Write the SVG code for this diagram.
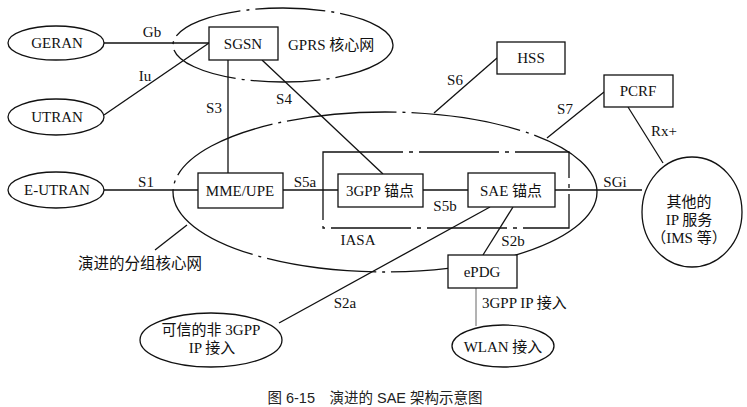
<svg xmlns="http://www.w3.org/2000/svg" width="747" height="407" viewBox="0 0 747 407">
<style>
.ln{stroke:#111;stroke-width:1.3;fill:none}
.el{stroke:#111;stroke-width:1.3;fill:#fff}
.bx{stroke:#111;stroke-width:1.3;fill:#fff}
.dd{stroke:#111;stroke-width:1.3;fill:none;stroke-dasharray:70 6 3 6}
.t{font-family:"Liberation Serif","Noto Sans CJK SC",serif;font-size:15px;fill:#111;text-anchor:middle}
.l{font-family:"Liberation Serif","Noto Sans CJK SC",serif;font-size:15px;fill:#111}
.cap{font-family:"Liberation Sans","Noto Sans CJK SC",sans-serif;font-size:14.5px;fill:#222;text-anchor:middle}
</style>
<rect width="747" height="407" fill="#fff"/>
<g id="regions">
<ellipse id="gprs-core" cx="283" cy="45" rx="110" ry="37" class="dd"/>
<ellipse id="evolved-core" cx="385" cy="192" rx="212" ry="80" class="dd" style="stroke-dasharray:110 6 3 6"/>
<rect id="iasa" x="323" y="152" width="246" height="76" class="dd" style="stroke-dasharray:80 6 4 6"/>
<text class="t" x="358" y="245">IASA</text>
<text class="l" x="288" y="50">GPRS 核心网</text>
<text class="t" x="140" y="269" style="font-family:'Noto Sans CJK SC',sans-serif;font-size:15.5px">演进的分组核心网</text>
</g>
<g id="connectors">
<line class="ln" x1="104" y1="43" x2="209" y2="43"/>
<line class="ln" x1="104" y1="115" x2="209" y2="43"/>
<line class="ln" x1="228" y1="60" x2="228" y2="173"/>
<line class="ln" x1="262" y1="60" x2="383" y2="174"/>
<line class="ln" x1="104" y1="190" x2="198" y2="190"/>
<line class="ln" x1="283" y1="190" x2="338" y2="190"/>
<line class="ln" x1="423" y1="190" x2="468" y2="190"/>
<line class="ln" x1="555" y1="190" x2="642" y2="190"/>
<line class="ln" x1="497" y1="58" x2="434" y2="113"/>
<line class="ln" x1="604" y1="92" x2="547" y2="138"/>
<line class="ln" x1="628" y1="107" x2="663" y2="163"/>
<line class="ln" x1="513" y1="207" x2="483" y2="255"/>
<line class="ln" x1="490" y1="207" x2="279" y2="323"/>
<line class="ln" x1="476" y1="288" x2="476" y2="326" style="stroke:#666;stroke-width:1"/>
<line class="ln" x1="155" y1="250" x2="187" y2="225"/>
<text class="t" x="152" y="37">Gb</text>
<text class="t" x="145" y="81">Iu</text>
<text class="t" x="214" y="113">S3</text>
<text class="t" x="284" y="104">S4</text>
<text class="t" x="146" y="187">S1</text>
<text class="t" x="305" y="187">S5a</text>
<text class="t" x="445" y="211">S5b</text>
<text class="t" x="615" y="187">SGi</text>
<text class="t" x="455" y="85">S6</text>
<text class="t" x="565" y="114">S7</text>
<text class="t" x="664" y="136">Rx+</text>
<text class="t" x="513" y="246">S2b</text>
<text class="t" x="345" y="308">S2a</text>
<text class="l" x="482" y="308">3GPP IP 接入</text>
</g>
<g id="geran"><ellipse class="el" cx="56" cy="43" rx="48" ry="17"/><text class="t" x="57" y="48">GERAN</text></g>
<g id="utran"><ellipse class="el" cx="56" cy="117" rx="48" ry="18"/><text class="t" x="57" y="122">UTRAN</text></g>
<g id="eutran"><ellipse class="el" cx="56" cy="190" rx="48" ry="18"/><text class="t" x="57" y="195">E-UTRAN</text></g>
<g id="sgsn"><rect class="bx" x="209" y="27" width="69" height="33"/><text class="t" x="243" y="49">SGSN</text></g>
<g id="mme-upe"><rect class="bx" x="198" y="173" width="85" height="35"/><text class="t" x="240" y="196">MME/UPE</text></g>
<g id="anchor-3gpp"><rect class="bx" x="338" y="174" width="85" height="33"/><text class="t" x="380" y="196">3GPP 锚点</text></g>
<g id="anchor-sae"><rect class="bx" x="468" y="173" width="87" height="34"/><text class="t" x="511" y="196">SAE 锚点</text></g>
<g id="hss"><rect class="bx" x="497" y="42" width="68" height="32"/><text class="t" x="531" y="63">HSS</text></g>
<g id="pcrf"><rect class="bx" x="604" y="75" width="69" height="32"/><text class="t" x="638" y="96">PCRF</text></g>
<g id="epdg"><rect class="bx" x="448" y="255" width="69" height="33"/><text class="t" x="482" y="277">ePDG</text></g>
<g id="ip-services"><ellipse class="el" cx="692" cy="212" rx="50" ry="55"/><text class="t" x="689" y="207">其他的</text><text class="t" x="689" y="225">IP 服务</text><text class="t" x="689" y="243">（IMS 等）</text></g>
<g id="trusted-non3gpp"><ellipse class="el" cx="211" cy="340" rx="71" ry="27"/><text class="t" x="211" y="335">可信的非 3GPP</text><text class="t" x="212" y="353">IP 接入</text></g>
<g id="wlan"><ellipse class="el" cx="503" cy="346" rx="51" ry="21"/><text class="t" x="503" y="352">WLAN 接入</text></g>
<text class="cap" x="375" y="403">图 6-15　演进的 SAE 架构示意图</text>
</svg>
